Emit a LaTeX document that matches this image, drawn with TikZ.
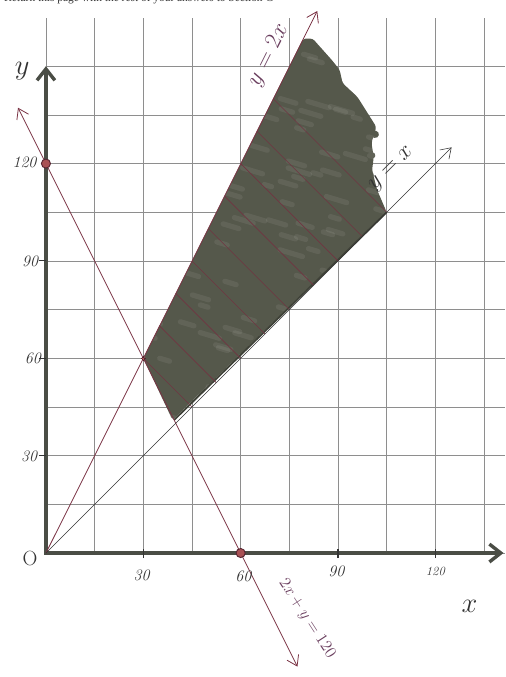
\documentclass[tikz,border=0pt]{standalone}
\usepackage{fontspec}
\usetikzlibrary{arrows.meta}
\newfontfamily\headfont{Liberation Serif}
\definecolor{gridgrey}{HTML}{8E8E8E}
\definecolor{axisgrey}{HTML}{4A4D45}
\definecolor{penmaroon}{HTML}{7A3344}
\definecolor{penpurple}{HTML}{6A3E5E}
\definecolor{penink}{HTML}{333333}
\definecolor{shadegrey}{HTML}{55584B}
\definecolor{shadedark}{HTML}{3F4238}
\definecolor{dotred}{HTML}{9A3236}

\begin{document}
\begin{tikzpicture}[x=1mm,y=1mm,
  gridline/.style={gridgrey,line width=0.45pt},
  axisline/.style={axisgrey,line width=3pt,line join=miter},
  axistip/.tip={Straight Barb[length=3.5mm,width=5.5mm]},
  pentip/.tip={Straight Barb[length=3mm,width=4mm]},
  penline/.style={penmaroon,line width=0.7pt},
  inkline/.style={penink,line width=0.5pt},
  hatchline/.style={penmaroon!85!shadedark,line width=0.55pt},
  streak/.style={white,opacity=0.07,line width=1.6mm,line cap=round},
  dot/.style={circle,fill=dotred!85,draw=penmaroon!70!black,line width=0.8pt,inner sep=0pt,minimum size=2.8mm},
  hand/.style={penink,font=\itshape\fontsize{14}{16}\selectfont}]
\useasboundingbox (-14.15,-38.2) rectangle (141.5,170.4); %Same frame as the scan
\clip (-14.15,-38.2) rectangle (141.5,170.4);

\node[anchor=base west,text=black!80,font=\headfont\fontsize{10}{12}\selectfont] (header) at (-14.1,169.8) {Return this page with the rest of your answers to Section C}; %Cut off at the top

\draw[gridline,step=15] (0,0) grid (141.5,150); %Graph paper
\draw[gridline,xstep=15,ystep=100] (0,150) grid (135,165); %Vertical lines above the top row

\fill[shadegrey,rounded corners=0.8mm] (30,60) -- (39,41) -- (105,105) -- (102,112) -- (100.5,118) -- (101,122) -- (100.3,126.4) -- (101.8,131.3) -- (96,140.5) -- (91.4,144.8) -- (90.5,148.9) -- (88,152) -- (82.2,158.5) -- (79.3,158.5) -- cycle; %Feasible region
\draw[shadegrey,line width=2.2mm,line cap=round] (92,131) -- (101.5,129); %Pencil strokes at the edge
\draw[shadegrey,line width=2mm,line cap=round] (92,124) -- (100.5,122.5);
\draw[shadegrey,line width=2mm,line cap=round] (92,118) -- (100,116.5);
\draw[shadegrey,line width=2mm,line cap=round] (86,145) -- (94,141);
\begin{scope} %Lighter pencil texture
\clip (30,60) -- (39,41) -- (105,105) -- (101,131) -- (82.2,158.5) -- (79.3,158.5) -- cycle;
\pgfmathsetseed{11}
\foreach \i in {1,...,140}{
  \pgfmathsetmacro{\sx}{30+75*rnd}
  \pgfmathsetmacro{\sy}{40+120*rnd}
  \pgfmathsetmacro{\sl}{2+5*rnd}
  \draw[streak] (\sx,\sy) -- ++(\sl,{-0.3*\sl});
}
\end{scope}
\draw[shadedark,line width=1.6pt] (39.5,41) -- (105,105); %Darker edge along y = x
\foreach \c in {90,105,...,210}
  \draw[hatchline] ({\c/3},{2*\c/3}) -- ({\c/2},{\c/2}); %Lines x + y = c

\coordinate (O) at (0,0);
\coordinate (ytop) at (0,150);
\coordinate (xend) at (141,0);
\draw[axisline,axistip-axistip] (ytop) -- (O) -- (xend); %Axes
\foreach \t in {30,60,90,120}
  \draw[penink,line width=1pt] (\t,-1.6) -- (\t,1.2); %Ticks on x
\foreach \t in {30,60,90}
  \draw[penink,line width=1pt] (-2.2,\t) -- (0,\t); %Ticks on y

\coordinate (twoxtip) at (83.6,167);
\coordinate (xtip) at (125,125);
\coordinate (budtop) at (-8.6,137.2);
\coordinate (budbot) at (77.5,-35);
\draw[penline,pentip-pentip] (budtop) -- (budbot); %2x + y = 120
\draw[penline,-pentip] (O) -- (twoxtip); %y = 2x
\draw[inkline,-pentip] (O) -- (xtip); %y = x

\node[dot] (ycut) at (0,120) {};
\node[dot] (xcut) at (60,0) {};
\node[dot,minimum size=1.2mm,line width=0pt] (corner) at (30,60) {};

\node[hand] (tx30) at (29.5,-7) {30};
\node[hand] (tx60) at (60.8,-7.2) {60};
\node[hand] (tx90) at (89.5,-5.6) {90};
\node[hand,font=\itshape\fontsize{11}{13}\selectfont] (tx120) at (120,-5.6) {120};
\node[hand] (ty30) at (-5.2,29.8) {30};
\node[hand] (ty60) at (-4,60) {60};
\node[hand] (ty90) at (-4.9,90) {90};
\node[hand] (ty120) at (-6.6,120.3) {120};
\node[hand,font=\fontsize{18}{20}\selectfont] (origin) at (-4.9,-1.6) {O};
\node[penink,font=\fontsize{28}{30}\selectfont] (ylab) at (-7.3,148.6) {$y$};
\node[penink,font=\fontsize{34}{36}\selectfont] (xlab) at (130.5,-16.5) {$x$};

\node[penpurple,rotate=63.4,font=\fontsize{22}{26}\selectfont] (lab2x) at (68.6,153.4) {$y=2x$};
\node[penink,rotate=45,font=\fontsize{21}{25}\selectfont] (labx) at (106.6,118.2) {$y=x$};
\node[penpurple,rotate=-57,font=\fontsize{15}{18}\selectfont] (labbud) at (80.4,-20.2) {$2x+y=120$};
\end{tikzpicture}
\end{document}
